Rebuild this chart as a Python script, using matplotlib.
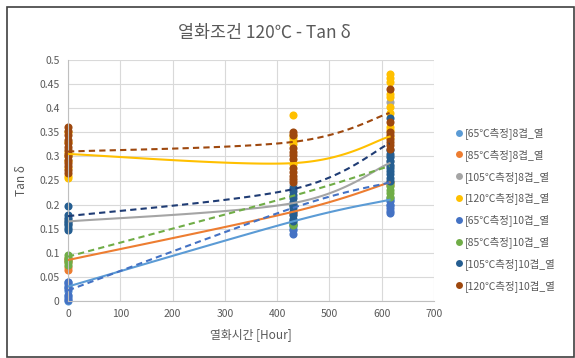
import numpy as np
import matplotlib
matplotlib.use("Agg")
import matplotlib.pyplot as plt
from matplotlib.lines import Line2D
from matplotlib.patches import Rectangle

plt.rcParams["font.family"] = ["Noto Sans CJK KR", "DejaVu Sans"]

# aging time of the three measurement groups [Hour]
hours = [0, 430, 615]

labels = [
    "[65℃측정]8겹_열", "[85℃측정]8겹_열", "[105℃측정]8겹_열", "[120℃측정]8겹_열",
    "[65℃측정]10겹_열", "[85℃측정]10겹_열", "[105℃측정]10겹_열", "[120℃측정]10겹_열",
]

# measured tan delta values for each series at 0 h, 430 h and 615 h
pts_65_8 = [[0.04, 0.03, 0.02, 0.01, 0.0], [0.165, 0.16, 0.15], [0.21, 0.2]]
pts_85_8 = [[0.09, 0.085, 0.08, 0.07, 0.065], [0.185, 0.18], [0.247, 0.24]]
pts_105_8 = [[0.17, 0.165, 0.16], [0.24, 0.2], [0.413, 0.30, 0.29, 0.28]]
pts_120_8 = [[0.35, 0.33, 0.31, 0.30, 0.29, 0.275, 0.26, 0.255],
             [0.386, 0.345, 0.338, 0.332, 0.325, 0.285],
             [0.471, 0.463, 0.455, 0.43, 0.423, 0.403, 0.39, 0.362, 0.355, 0.34]]
pts_65_10 = [[0.04, 0.035, 0.03, 0.025, 0.012, 0.007, 0.002],
             [0.155, 0.148, 0.14],
             [0.214, 0.207, 0.2, 0.193, 0.186, 0.183]]
pts_85_10 = [[0.095, 0.09, 0.085, 0.08, 0.075], [0.2, 0.16, 0.157],
             [0.245, 0.238, 0.231, 0.224, 0.216]]
pts_105_10 = [[0.198, 0.178, 0.172, 0.167, 0.162, 0.157, 0.152, 0.148],
              [0.235, 0.228, 0.22, 0.213, 0.206, 0.199, 0.192, 0.185,
               0.178, 0.171, 0.165],
              [0.38, 0.313, 0.305, 0.298, 0.29, 0.283, 0.276, 0.27,
               0.263, 0.256, 0.25]]
pts_120_10 = [[0.36, 0.352, 0.345, 0.335, 0.327, 0.32, 0.313, 0.306, 0.30,
               0.293, 0.286, 0.28, 0.272, 0.265],
              [0.35, 0.345, 0.317, 0.31, 0.303, 0.295, 0.276, 0.268, 0.26,
               0.253, 0.247],
              [0.44, 0.372, 0.351, 0.344, 0.337, 0.33, 0.323, 0.316]]

# average trend of each series
avg_65_8 = [0.03, 0.165, 0.21]
avg_85_8 = [0.085, 0.185, 0.246]
avg_105_8 = [0.165, 0.203, 0.286]
avg_120_8 = [0.305, 0.286, 0.341]
avg_65_10 = [0.022, 0.193, 0.246]
avg_85_10 = [0.092, 0.218, 0.28]
avg_105_10 = [0.176, 0.232, 0.327]
avg_120_10 = [0.31, 0.33, 0.39]

points = [pts_65_8, pts_85_8, pts_105_8, pts_120_8,
          pts_65_10, pts_85_10, pts_105_10, pts_120_10]
averages = [avg_65_8, avg_85_8, avg_105_8, avg_120_8,
            avg_65_10, avg_85_10, avg_105_10, avg_120_10]
marker_colors = ["#5B9BD5", "#ED7D31", "#A5A5A5", "#FFC000",
                 "#4472C4", "#70AD47", "#255E91", "#9E480E"]
line_colors = ["#5B9BD5", "#ED7D31", "#A5A5A5", "#FFC000",
               "#4472C4", "#70AD47", "#1F3C74", "#9E480E"]
dashed = [False] * 4 + [True] * 4


def smooth_curve(xs, ys, n=60):
    # cubic bezier through the points, tangents from neighbouring points
    p = np.column_stack([xs, ys]).astype(float)
    out = []
    for i in range(len(p) - 1):
        prev_p = p[i - 1] if i > 0 else p[i]
        next_p = p[i + 2] if i + 2 < len(p) else p[i + 1]
        c1 = p[i] + (p[i + 1] - prev_p) / 6
        c2 = p[i + 1] - (next_p - p[i]) / 6
        t = np.linspace(0, 1, n)[:, None]
        seg = ((1 - t) ** 3 * p[i] + 3 * (1 - t) ** 2 * t * c1
               + 3 * (1 - t) * t ** 2 * c2 + t ** 3 * p[i + 1])
        out.append(seg if i == 0 else seg[1:])
    out = np.vstack(out)
    return out[:, 0], out[:, 1]


fig = plt.figure(figsize=(5.75, 3.58), dpi=100)
ax = fig.add_axes([68 / 575, 1 - 301 / 358, 366 / 575, 241 / 358])

for k in range(len(points)):
    for x, vals in zip(hours, points[k]):
        ax.scatter([x] * len(vals), vals, s=34, color=marker_colors[k],
                   linewidths=0, zorder=2 + k * 0.01, clip_on=False)

for k in range(len(averages)):
    sx, sy = smooth_curve(hours, averages[k])
    ls = (0, (3, 2)) if dashed[k] else "-"
    ax.plot(sx, sy, color=line_colors[k], lw=1.5, ls=ls, zorder=3)

ax.set_xlim(0, 700)
ax.set_ylim(0, 0.5)
ax.set_xticks(np.arange(0, 701, 100))
ax.set_yticks(np.arange(0, 0.501, 0.05))
ax.set_yticklabels(["0"] + [f"{v:g}" for v in np.arange(0.05, 0.501, 0.05)])
ax.grid(True, color="#D9D9D9", lw=0.8)
ax.set_axisbelow(True)
for side in ["top", "right"]:
    ax.spines[side].set_visible(False)
for side in ["left", "bottom"]:
    ax.spines[side].set_color("#BFBFBF")
    ax.spines[side].set_linewidth(0.8)
ax.tick_params(length=0, labelsize=7.5, colors="#595959", pad=6)

ax.set_xlabel("열화시간 [Hour]", fontsize=8.5, color="#595959", labelpad=6)
ax.set_ylabel("Tan δ", fontsize=8.5, color="#595959", labelpad=8)
fig.text(264 / 575, 1 - 33 / 358, "열화조건 120℃ - Tan δ", ha="center",
         va="center", fontsize=12.5, color="#595959")

handles = [Line2D([], [], ls="none", marker="o", markersize=5,
                  markerfacecolor=c, markeredgewidth=0) for c in marker_colors]
leg = fig.legend(handles, labels, loc="upper left",
                 bbox_to_anchor=(452 / 575, 1 - 123 / 358), frameon=False,
                 fontsize=7.5, handlelength=0.6, handletextpad=0.2,
                 labelspacing=0.95, borderaxespad=0)
for t in leg.get_texts():
    t.set_color("#595959")

# outer chart frame
fig.patches.append(Rectangle((7 / 575, 1 / 358), 567 / 575, 350 / 358,
                             transform=fig.transFigure, fill=False,
                             edgecolor="#404040", lw=1.2))

fig.savefig("out.png", dpi=100)
